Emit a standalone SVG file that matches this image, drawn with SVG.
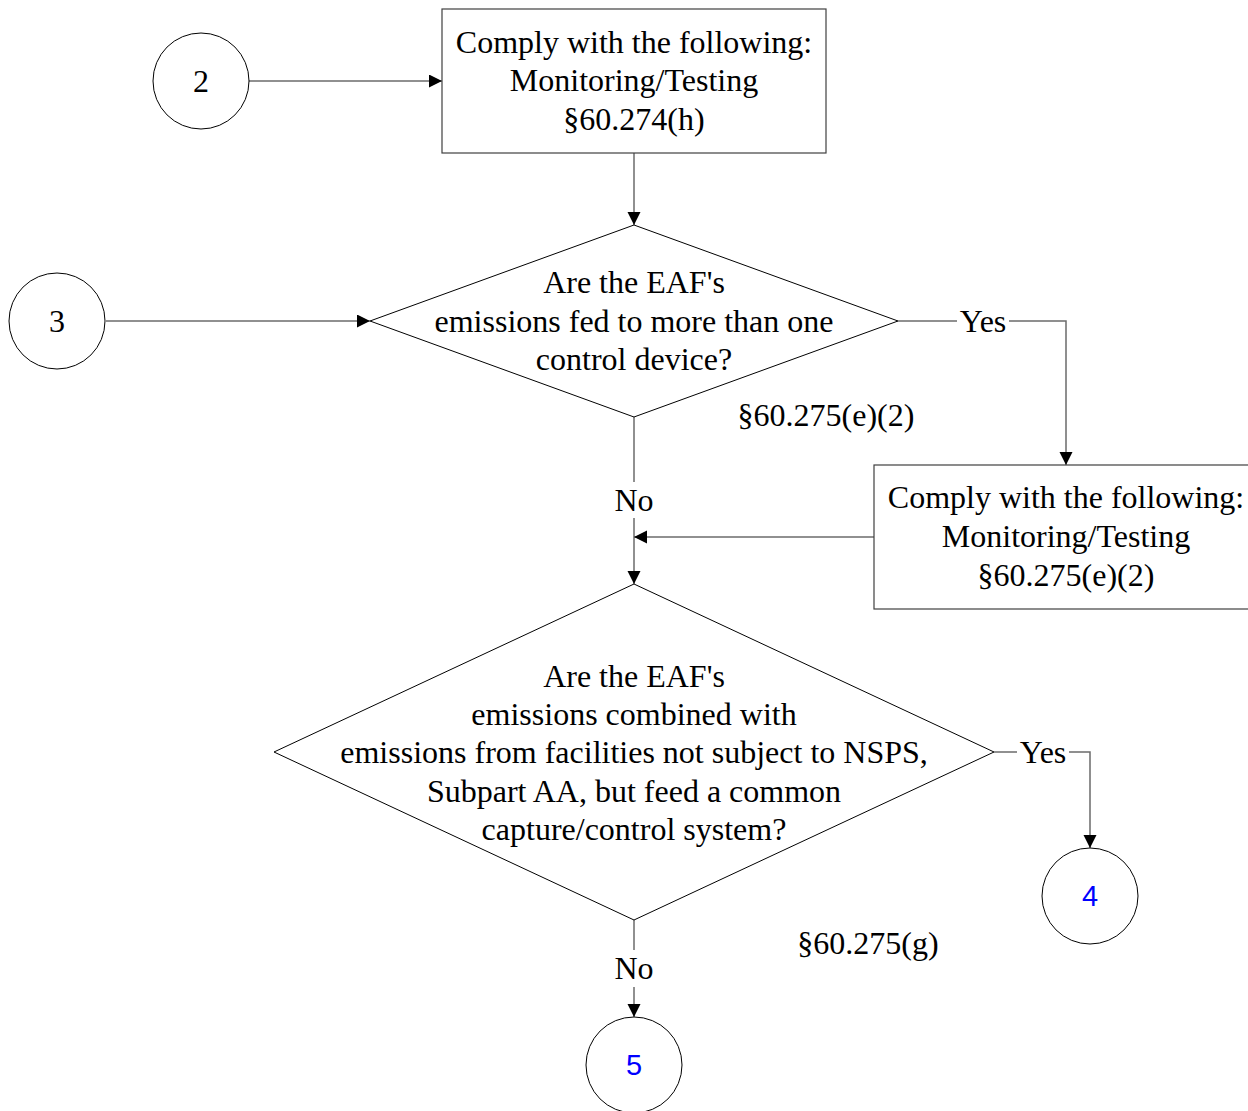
<svg xmlns="http://www.w3.org/2000/svg" width="1248" height="1111" viewBox="0 0 1248 1111">
<defs>
<style>
.t{font-family:"Liberation Serif","Times New Roman",serif;font-size:32px;fill:#000;text-anchor:middle}
.n{font-family:"Liberation Sans",Arial,sans-serif;font-size:29px;fill:#0000ff;text-anchor:middle}
.shape{fill:#fff;stroke:#000;stroke-width:1}
.box{fill:#fff;stroke:#404040;stroke-width:1.2}
.c{fill:none;stroke:#6b6b6b;stroke-width:1.5}
</style>
<marker id="ah" markerWidth="14" markerHeight="14" refX="13" refY="6.5" orient="auto" markerUnits="userSpaceOnUse">
<path d="M0,0 L13,6.5 L0,13 Z" fill="#000"/>
</marker>
</defs>
<rect width="1248" height="1111" fill="#fff"/>
<g id="connectors">
<line class="c" x1="249" y1="81" x2="442" y2="81" marker-end="url(#ah)"/>
<line class="c" x1="634" y1="153" x2="634" y2="225" marker-end="url(#ah)"/>
<line class="c" x1="106" y1="321" x2="370" y2="321" marker-end="url(#ah)"/>
<polyline class="c" points="898,321 957,321"/>
<polyline class="c" points="1009,321 1066,321 1066,465" marker-end="url(#ah)"/>
<line class="c" x1="634" y1="417" x2="634" y2="482"/>
<line class="c" x1="634" y1="518" x2="634" y2="584" marker-end="url(#ah)"/>
<line class="c" x1="874" y1="537" x2="634" y2="537" marker-end="url(#ah)"/>
<polyline class="c" points="994,752 1017,752"/>
<polyline class="c" points="1069,752 1090,752 1090,848" marker-end="url(#ah)"/>
<line class="c" x1="634" y1="920" x2="634" y2="950"/>
<line class="c" x1="634" y1="987" x2="634" y2="1017" marker-end="url(#ah)"/>
<text class="t" x="983" y="332">Yes</text>
<text class="t" x="1043" y="763">Yes</text>
<text class="t" x="634" y="511">No</text>
<text class="t" x="634" y="979">No</text>
</g>
<g id="c2"><circle class="shape" cx="201" cy="81" r="48"/><text class="t" x="201" y="92">2</text></g>
<g id="c3"><circle class="shape" cx="57" cy="321" r="48"/><text class="t" x="57" y="332">3</text></g>
<g id="box1"><rect class="box" x="442" y="9" width="384" height="144"/>
<text class="t" x="634" y="53">Comply with the following:</text>
<text class="t" x="634" y="91">Monitoring/Testing</text>
<text class="t" x="634" y="130">§60.274(h)</text></g>
<g id="d1"><polygon class="shape" points="634,225 898,321 634,417 370,321"/>
<text class="t" x="634" y="293">Are the EAF's</text>
<text class="t" x="634" y="332">emissions fed to more than one</text>
<text class="t" x="634" y="370">control device?</text></g>
<g id="ref1"><text class="t" x="826" y="426">§60.275(e)(2)</text></g>
<g id="box2"><rect class="box" x="874" y="465" width="384" height="144"/>
<text class="t" x="1066" y="508">Comply with the following:</text>
<text class="t" x="1066" y="547">Monitoring/Testing</text>
<text class="t" x="1066" y="586">§60.275(e)(2)</text></g>
<g id="d2"><polygon class="shape" points="634,584 994,752 634,920 274,752"/>
<text class="t" x="634" y="687">Are the EAF's</text>
<text class="t" x="634" y="725">emissions combined with</text>
<text class="t" x="634" y="763">emissions from facilities not subject to NSPS,</text>
<text class="t" x="634" y="802">Subpart AA, but feed a common</text>
<text class="t" x="634" y="840">capture/control system?</text></g>
<g id="ref2"><text class="t" x="868" y="954">§60.275(g)</text></g>
<g id="c4"><circle class="shape" cx="1090" cy="896" r="48"/><text class="n" x="1090" y="906">4</text></g>
<g id="c5"><circle class="shape" cx="634" cy="1065" r="48"/><text class="n" x="634" y="1075">5</text></g>
</svg>
